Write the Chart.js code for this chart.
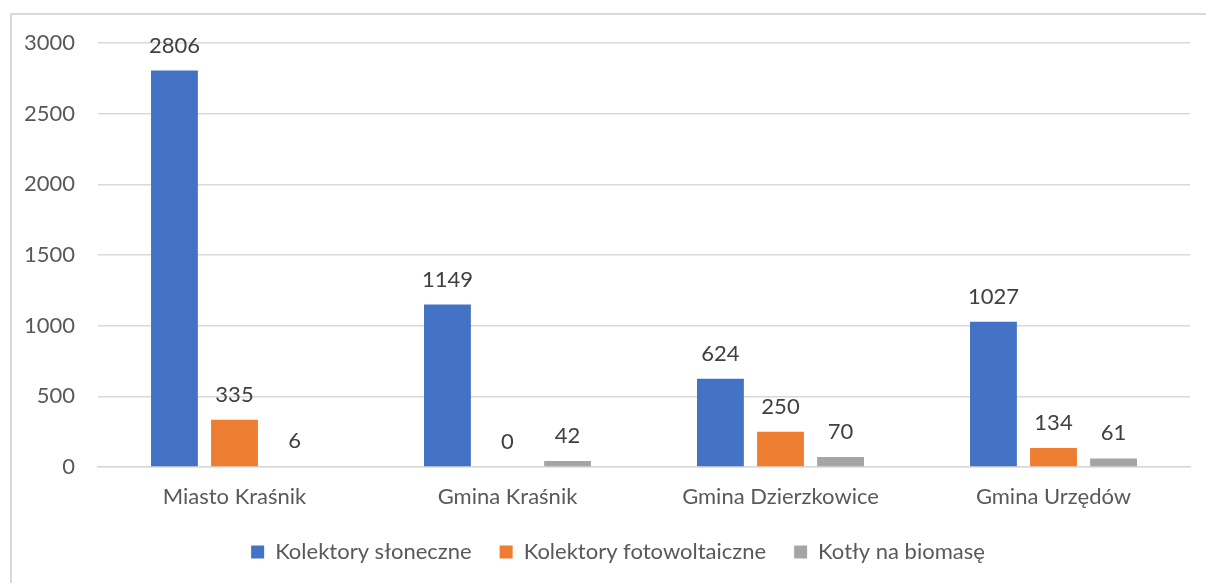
<!DOCTYPE html>
<html>
<head>
<meta charset="utf-8">
<script src="https://cdn.jsdelivr.net/npm/chart.js@4.4.0/dist/chart.umd.min.js"></script>
<style>
    html, body { margin: 0; padding: 0; background: #fff; overflow: hidden; }
    #wrap { position: absolute; left: 0; top: 0; width: 1206px; height: 583px; }
    #frame { position: absolute; left: 10px; top: 13px; width: 1300px; height: 700px;
             border: 2px solid #d9d9d9; box-sizing: border-box; }
</style>
</head>
<body>
<div id="wrap">
    <div id="frame"></div>
    <canvas id="chart" width="1206" height="583"></canvas>
</div>
<script>
const categories = ["Miasto Kraśnik", "Gmina Kraśnik", "Gmina Dzierzkowice", "Gmina Urzędów"];
const seriesNames = ["Kolektory słoneczne", "Kolektory fotowoltaiczne", "Kotły na biomasę"];
const solarValues = [2806, 1149, 624, 1027];
const pvValues = [335, 0, 250, 134];
const biomassValues = [6, 42, 70, 61];
const seriesColors = ["#4472C4", "#ED7D31", "#A5A5A5"];

const fontFamily = "Lato, 'Open Sans', sans-serif";
const fontSize = 22;
const bottomPad = 10;
const axisBottom = 467;

// simple value labels above each bar
const valueLabels = {
    id: "valueLabels",
    afterDatasetsDraw(chart) {
        let ctx = chart.ctx;
        ctx.save();
        ctx.font = fontSize + "px " + fontFamily;
        ctx.fillStyle = "#404040";
        ctx.textAlign = "center";
        ctx.textBaseline = "middle";
        chart.data.datasets.forEach((ds, i) => {
            let meta = chart.getDatasetMeta(i);
            meta.data.forEach((bar, j) => {
                ctx.fillText(String(ds.data[j]), bar.x, bar.y - 25);
            });
        });
        ctx.restore();
    }
};

// the original legend sits a bit right of the canvas centre
const legendShift = {
    id: "legendShift",
    afterLayout(chart) {
        if (chart.legend) {
            chart.legend.left += 23;
            chart.legend.right += 23;
        }
    }
};

let datasets = [solarValues, pvValues, biomassValues].map((vals, i) => ({
    label: seriesNames[i],
    data: vals,
    backgroundColor: seriesColors[i],
    borderWidth: 0,
    categoryPercentage: 0.66,
    barPercentage: 0.78
}));

new Chart(document.getElementById("chart"), {
    type: "bar",
    data: { labels: categories, datasets: datasets },
    plugins: [valueLabels, legendShift],
    options: {
        responsive: false,
        animation: false,
        layout: { padding: { left: 0, right: 16, top: 43, bottom: bottomPad } },
        plugins: {
            tooltip: { enabled: false },
            legend: {
                position: "bottom",
                labels: {
                    boxWidth: 13,
                    boxHeight: 13,
                    padding: 28,
                    color: "#595959",
                    font: { family: fontFamily, size: fontSize }
                }
            }
        },
        scales: {
            x: {
                grid: { display: false },
                border: { color: "#d9d9d9", width: 1.5 },
                ticks: { color: "#595959", font: { family: fontFamily, size: fontSize }, padding: 9 },
                afterFit(scale) {
                    let legendHeight = scale.chart.legend ? scale.chart.legend.height : 62;
                    scale.height = 583 - bottomPad - legendHeight - axisBottom;
                }
            },
            y: {
                min: 0,
                max: 3000,
                grid: { color: "#d9d9d9", lineWidth: 1.5, drawTicks: false },
                border: { display: false },
                ticks: {
                    stepSize: 500,
                    color: "#595959",
                    font: { family: fontFamily, size: fontSize },
                    padding: 23,
                    callback: v => String(v)
                },
                afterFit(scale) { scale.width = 98; }
            }
        }
    }
});
</script>
</body>
</html>
